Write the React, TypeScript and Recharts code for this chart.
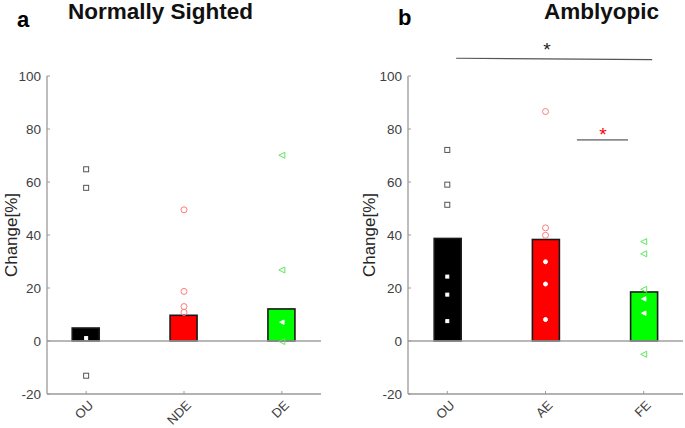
import {
  ComposedChart, Bar, Scatter, XAxis, YAxis, Cell, ReferenceLine, ReferenceDot,
} from 'recharts'

// panel a: normally sighted
const leftCats = ['OU', 'NDE', 'DE']
const leftMeans = [4.9, 9.7, 12.1]
const leftPoints = [
  [64.8, 57.8, 1.1, -13.1],
  [49.5, 18.7, 13.0, 10.8],
  [70.1, 26.8, 7.1, -0.2],
]

// panel b: amblyopic
const rightCats = ['OU', 'AE', 'FE']
const rightMeans = [38.7, 38.3, 18.5]
const rightPoints = [
  [72.1, 59.0, 51.4, 24.3, 17.5, 7.5],
  [86.6, 42.7, 39.9, 29.9, 21.5, 8.1],
  [37.5, 32.9, 19.5, 15.9, 10.5, -5.0],
]

const yTicks = [-20, 0, 20, 40, 60, 80, 100]
const barColors = ['#000000', '#ff0000', '#00ff00']
const markerColors = ['#555555', '#ff7a7a', '#5ee65e']
const markerKinds = ['square', 'circle', 'triangle']

const FONT = 'Arial, "Liberation Sans", Helvetica, sans-serif'

function Marker({ cx, cy, kind, color, inner }: any) {
  if (cx == null || cy == null) return null
  const stroke = inner ? '#ffffff' : color
  const fill = inner ? '#ffffff' : 'none'
  if (kind === 'square') {
    const s = inner ? 3 : 5
    return <rect x={cx - s / 2} y={cy - s / 2} width={s} height={s} fill={fill} stroke={stroke} strokeWidth={1} />
  }
  if (kind === 'circle') {
    return <circle cx={cx} cy={cy} r={inner ? 2 : 3} fill={fill} stroke={stroke} strokeWidth={1} />
  }
  const r = inner ? 2.2 : 3
  return (
    <polygon
      points={`${cx - r},${cy} ${cx + r},${cy - r} ${cx + r},${cy + r}`}
      fill={fill} stroke={stroke} strokeWidth={1}
    />
  )
}

function BarBox({ x, y, width, height, fill }: any) {
  const top = height < 0 ? y + height : y
  return (
    <rect x={x} y={top} width={width} height={Math.abs(height)} fill={fill} stroke="#1a1a1a" strokeWidth={1.6} />
  )
}

function XTick({ x, y, payload, cats }: any) {
  const label = cats[payload.value - 1]
  return (
    <text
      x={x + 8} y={y + 12}
      transform={`rotate(-45 ${x + 8} ${y + 12})`}
      textAnchor="end"
      fontSize={13}
      fontFamily={FONT}
      fill="#404040"
    >
      {label}
    </text>
  )
}

function Panel({ cats, means, points, width, left, yAxisW, marginRight, children }: any) {
  const data = cats.map((c: string, i: number) => ({ x: i + 1, v: means[i] }))
  const series: any[] = []
  points.forEach((vals: number[], i: number) => {
    const outer = vals.filter((v) => !(v > 0 && v < means[i])).map((v) => ({ x: i + 1, v }))
    const inner = vals.filter((v) => v > 0 && v < means[i]).map((v) => ({ x: i + 1, v }))
    if (outer.length) {
      series.push(
        <Scatter
          key={`o${i}`}
          data={outer}
          dataKey="v"
          isAnimationActive={false}
          shape={(p: any) => <Marker cx={p.cx} cy={p.cy} kind={markerKinds[i]} color={markerColors[i]} />}
        />,
      )
    }
    if (inner.length) {
      series.push(
        <Scatter
          key={`i${i}`}
          data={inner}
          dataKey="v"
          isAnimationActive={false}
          shape={(p: any) => <Marker cx={p.cx} cy={p.cy} kind={markerKinds[i]} color={markerColors[i]} inner />}
        />,
      )
    }
  })
  return (
    <div style={{ position: 'absolute', left, top: 0 }}>
      <ComposedChart
        width={width}
        height={428}
        data={data}
        margin={{ top: 76, right: marginRight, bottom: 0, left: 0 }}
      >
        <XAxis
          dataKey="x"
          type="number"
          domain={[0.6, 3.4]}
          ticks={[1, 2, 3]}
          height={34}
          tickSize={-3}
          tickMargin={3}
          axisLine={{ stroke: '#9a9a9a', strokeWidth: 1.3 }}
          tickLine={{ stroke: '#9a9a9a' }}
          tick={<XTick cats={cats} />}
          allowDataOverflow
        />
        <YAxis
          type="number"
          domain={[-20, 100]}
          ticks={yTicks}
          width={yAxisW}
          tickSize={-3}
          tickMargin={9}
          axisLine={{ stroke: '#9a9a9a', strokeWidth: 1.3 }}
          tickLine={{ stroke: '#9a9a9a' }}
          tick={{ fontSize: 13.5, fill: '#404040', fontFamily: FONT }}
          allowDataOverflow
        />
        <Bar dataKey="v" barSize={27} shape={<BarBox />} isAnimationActive={false}>
          {data.map((_: any, i: number) => (
            <Cell key={i} fill={barColors[i]} />
          ))}
        </Bar>
        <ReferenceLine y={0} stroke="#a0a0a0" strokeWidth={1.6} />
        {series}
        {children}
      </ComposedChart>
    </div>
  )
}

function Star({ cx, cy, color }: any) {
  return (
    <text x={cx} y={cy + 8} textAnchor="middle" fontSize={19} fontFamily={FONT} fill={color}>
      *
    </text>
  )
}

export default function App() {
  return (
    <div style={{ position: 'absolute', left: 0, top: 0, width: 685, height: 428, background: '#fff', fontFamily: FONT }}>
      <Panel cats={leftCats} means={leftMeans} points={leftPoints} width={340} left={0} yAxisW={47} marginRight={19} />
      <Panel cats={rightCats} means={rightMeans} points={rightPoints} width={345} left={340} yAxisW={68} marginRight={2}>
        <ReferenceLine
          segment={[{ x: 1.09, y: 106.7 }, { x: 3.086, y: 106.2 }]}
          stroke="#555555" strokeWidth={1.2} ifOverflow="visible"
        />
        <ReferenceDot x={2.014} y={110.5} ifOverflow="visible" shape={(p: any) => <Star {...p} color="#222222" />} />
        <ReferenceLine
          segment={[{ x: 2.32, y: 75.9 }, { x: 2.84, y: 75.9 }]}
          stroke="#8a8a8a" strokeWidth={1.6}
        />
        <ReferenceDot x={2.585} y={78.6} shape={(p: any) => <Star {...p} color="#ff0000" />} />
      </Panel>

      <div style={{ position: 'absolute', left: 17, top: 7, fontSize: 22, fontWeight: 'bold', color: '#000' }}>a</div>
      <div style={{ position: 'absolute', left: 68, top: -1, fontSize: 22.5, fontWeight: 'bold', color: '#111' }}>
        Normally Sighted
      </div>
      <div style={{ position: 'absolute', left: 398, top: 5, fontSize: 22, fontWeight: 'bold', color: '#000' }}>b</div>
      <div style={{ position: 'absolute', left: 544, top: -1, fontSize: 22.5, fontWeight: 'bold', color: '#111' }}>
        Amblyopic
      </div>

      <div style={{
        position: 'absolute', left: 12, top: 235, fontSize: 17, color: '#262626',
        transform: 'translate(-50%, -50%) rotate(-90deg)', whiteSpace: 'nowrap',
      }}>
        Change[%]
      </div>
      <div style={{
        position: 'absolute', left: 370, top: 235, fontSize: 17, color: '#262626',
        transform: 'translate(-50%, -50%) rotate(-90deg)', whiteSpace: 'nowrap',
      }}>
        Change[%]
      </div>
    </div>
  )
}
